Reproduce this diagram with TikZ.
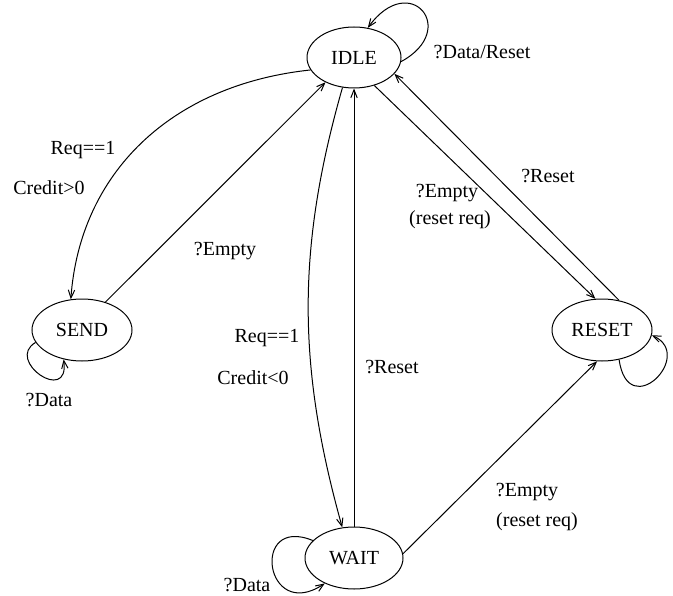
\documentclass[tikz,border=0pt]{standalone}
\usepackage{fontspec}
\setmainfont{Liberation Serif}
\usetikzlibrary{arrows.meta, shapes.geometric}

\tikzset{
  state/.style={ellipse, draw, line width=0.5pt, inner sep=0pt, minimum height=31pt},
  trans/.style={line width=0.5pt, -{Straight Barb[length=4pt, width=3.2pt]}},
  lbl/.style={inner sep=0pt}
}

\begin{document}
\begin{tikzpicture}[x=0.5pt, y=0.5pt]
\useasboundingbox (0,0) rectangle (673,595);

% states
\node[state, minimum width=47pt, minimum height=30.5pt] (IDLE) at (354,537.5) {IDLE};
\node[state, minimum width=50pt] (SEND) at (82,265) {SEND};
\node[state, minimum width=49pt] (WAIT) at (354,37) {WAIT};
\node[state, minimum width=50pt] (RESET) at (602,265) {RESET};

% transitions
\draw[trans] (IDLE.-5) .. controls +(59,32) and +(42,58) .. (IDLE.65);
\draw[trans] (IDLE.196) .. controls +(-141,-15) and +(9,125) .. (SEND.110);
\draw[trans] (SEND.50) -- (IDLE.221);
\draw[trans] (IDLE.249) .. controls +(-46,-161) and +(-45,161) .. (WAIT.111);
\draw[trans] (WAIT.north) -- (IDLE.south);
\draw[trans] (IDLE.-54) -- (RESET.102);
\draw[trans] (RESET.60) -- (IDLE.-22);
\draw[trans] (RESET.-60) .. controls +(9,-64) and +(44,-20) .. (RESET.-6);
\draw[trans] (WAIT.5) -- (RESET.-99);
\draw[trans] (WAIT.157) .. controls +(-63,26) and +(-60,-40) .. (WAIT.221);
\draw[trans] (SEND.195) .. controls +(-31,-18) and +(6,-46) .. (SEND.238);

% labels
\node[lbl] (l-idle-loop) at (482,543) {?Data/Reset};
\node[lbl] (l-send-req) at (83,445) {Req==1};
\node[lbl] (l-send-cred) at (49,407) {Credit>0};
\node[lbl] (l-send-empty) at (225,344) {?Empty};
\node[lbl] (l-wait-req) at (267,257) {Req==1};
\node[lbl] (l-wait-cred) at (253,217) {Credit<0};
\node[lbl] (l-wait-reset) at (392,228) {?Reset};
\node[lbl] (l-reset-empty) at (447,402) {?Empty};
\node[lbl] (l-reset-req) at (450,375) {(reset req)};
\node[lbl] (l-reset-back) at (548,419) {?Reset};
\node[lbl] (l-wr-empty) at (527,103) {?Empty};
\node[lbl] (l-wr-req) at (537,73) {(reset req)};
\node[lbl] (l-send-loop) at (49,195) {?Data};
\node[lbl] (l-wait-loop) at (247,10) {?Data};
\end{tikzpicture}
\end{document}
